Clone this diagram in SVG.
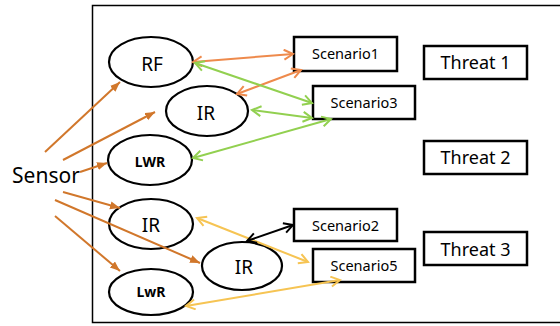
<svg xmlns="http://www.w3.org/2000/svg" width="560" height="326" viewBox="0 0 560 326">
<defs>
<marker id="hs" markerUnits="userSpaceOnUse" markerWidth="12" markerHeight="10" refX="10" refY="4" orient="auto"><path d="M0,0 L10,4 L0,8 Z" fill="#D1772B"/></marker>
<marker id="ho" markerUnits="userSpaceOnUse" markerWidth="14" markerHeight="14" refX="10" refY="6" orient="auto-start-reverse"><path d="M1,1 L10,6 L1,11" fill="none" stroke="#EE8A4C" stroke-width="2"/></marker>
<marker id="hg" markerUnits="userSpaceOnUse" markerWidth="14" markerHeight="14" refX="10" refY="6" orient="auto-start-reverse"><path d="M1,1 L10,6 L1,11" fill="none" stroke="#92D050" stroke-width="2"/></marker>
<marker id="hy" markerUnits="userSpaceOnUse" markerWidth="14" markerHeight="14" refX="10" refY="6" orient="auto-start-reverse"><path d="M1,1 L10,6 L1,11" fill="none" stroke="#F6C453" stroke-width="2"/></marker>
<marker id="hk" markerUnits="userSpaceOnUse" markerWidth="14" markerHeight="14" refX="10" refY="6" orient="auto-start-reverse"><path d="M1,1 L10,6 L1,11" fill="none" stroke="#000" stroke-width="2"/></marker>
</defs>
<style>
.el{fill:#fff;stroke:#000;stroke-width:2.2}
.bx{fill:#fff;stroke:#000;stroke-width:2.5}
.t{font-family:"Noto Sans","DejaVu Sans",sans-serif;text-anchor:middle;fill:#000}
.big{font-size:19px}
.bold{font-size:14px;font-weight:bold}
.sc{font-size:14.5px}
.th{font-size:18px}
.s{stroke:#D1772B;stroke-width:2;fill:none;marker-end:url(#hs)}
.o{stroke:#EE8A4C;stroke-width:2;fill:none;marker-start:url(#ho);marker-end:url(#ho)}
.g{stroke:#92D050;stroke-width:2;fill:none;marker-start:url(#hg);marker-end:url(#hg)}
.y{stroke:#F6C453;stroke-width:2;fill:none;marker-start:url(#hy);marker-end:url(#hy)}
.k{stroke:#000;stroke-width:2;fill:none;marker-start:url(#hk);marker-end:url(#hk)}
</style>
<rect width="560" height="326" fill="#fff"/>
<path d="M560,5.5 H92.5 V322.5 H560" fill="none" stroke="#000" stroke-width="1.5"/>

<g id="nodes">
<g id="rf"><ellipse class="el" cx="151" cy="62" rx="42" ry="25"/><text class="t big" x="152" y="71">RF</text></g>
<g id="ir1"><ellipse class="el" cx="207" cy="111" rx="41" ry="25"/><text class="t big" x="206" y="120">IR</text></g>
<g id="lwr"><ellipse class="el" cx="150" cy="160" rx="42" ry="25"/><text class="t bold" x="150" y="167">LWR</text></g>
<g id="ir2"><ellipse class="el" cx="151" cy="224" rx="42" ry="25"/><text class="t big" x="151" y="232">IR</text></g>
<g id="ir3"><ellipse class="el" cx="242" cy="266" rx="40" ry="24"/><text class="t big" x="244" y="274">IR</text></g>
<g id="lwr2"><ellipse class="el" cx="151" cy="292" rx="42" ry="23"/><text class="t bold" x="151" y="297">LwR</text></g>
<g id="scenario1"><rect class="bx" x="294" y="37" width="103" height="34"/><text class="t sc" x="345.5" y="59">Scenario1</text></g>
<g id="scenario3"><rect class="bx" x="313" y="86" width="102" height="33"/><text class="t sc" x="364" y="108">Scenario3</text></g>
<g id="scenario2"><rect class="bx" x="294" y="209" width="103" height="32"/><text class="t sc" x="345.5" y="231">Scenario2</text></g>
<g id="scenario5"><rect class="bx" x="313" y="249" width="102" height="33"/><text class="t sc" x="364" y="271">Scenario5</text></g>
<g id="threat1"><rect class="bx" x="424" y="46" width="103" height="33"/><text class="t th" x="475.5" y="69">Threat 1</text></g>
<g id="threat2"><rect class="bx" x="424" y="141" width="103" height="33"/><text class="t th" x="475.5" y="164">Threat 2</text></g>
<g id="threat3"><rect class="bx" x="424" y="232" width="103" height="33"/><text class="t th" x="475.5" y="256">Threat 3</text></g>
<g id="sensor"><text class="t" x="46" y="183" font-size="21">Sensor</text></g>
</g>

<g id="connectors">
<line class="s" x1="45" y1="152" x2="120" y2="82"/>
<line class="s" x1="63" y1="160" x2="155" y2="112"/>
<line class="s" x1="80" y1="172" x2="107" y2="163"/>
<line class="s" x1="63" y1="192" x2="120" y2="208"/>
<line class="s" x1="55" y1="200" x2="200" y2="263"/>
<line class="s" x1="55" y1="216" x2="120" y2="271"/>
<line class="o" x1="193" y1="62" x2="293" y2="54"/>
<line class="o" x1="237" y1="94" x2="301" y2="70"/>
<line class="g" x1="195" y1="63" x2="312" y2="103"/>
<line class="g" x1="252" y1="110" x2="312" y2="118"/>
<line class="g" x1="193" y1="158" x2="331" y2="119"/>
<line class="y" x1="197" y1="218" x2="308" y2="262"/>
<line class="y" x1="186" y1="306" x2="340" y2="280"/>
<line class="k" x1="247" y1="241" x2="293" y2="225"/>
</g>
</svg>
